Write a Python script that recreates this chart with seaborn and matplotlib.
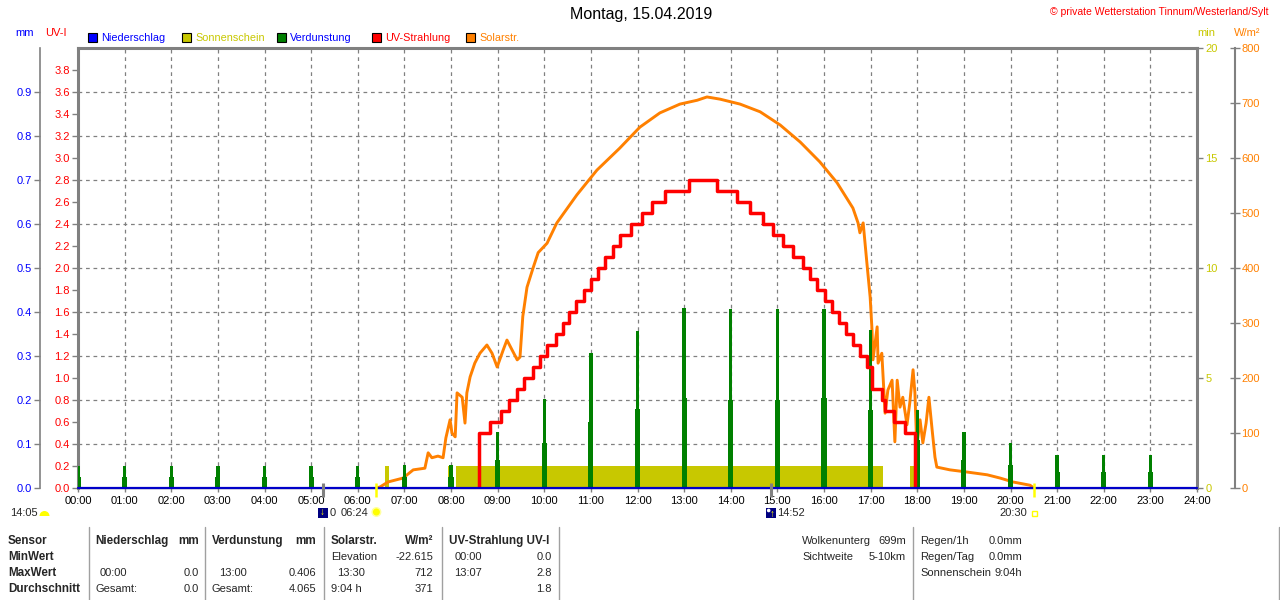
import matplotlib
matplotlib.use('Agg')
import matplotlib.pyplot as plt
import seaborn as sns
import numpy as np
from matplotlib.patches import Rectangle, Wedge, Circle
from matplotlib.ticker import FixedLocator, FormatStrFormatter

# ---------------- data ----------------
hours = list(range(25))
hour_labels = [f"{h:02d}:00" for h in hours]

# Verdunstung (mm per hour) - two-level hourly bars
evap_h = list(range(24))
evap_top = [0.050, 0.050, 0.050, 0.050, 0.050, 0.050, 0.050, 0.052, 0.052,
            0.127, 0.202, 0.307, 0.357, 0.409, 0.406, 0.406, 0.406, 0.360,
            0.177, 0.127, 0.102, 0.075, 0.075, 0.075]
evap_low = [0.025, 0.025, 0.025, 0.025, 0.025, 0.025, 0.025, 0.025, 0.025,
            0.064, 0.102, 0.150, 0.180, 0.204, 0.200, 0.200, 0.205, 0.177,
            0.109, 0.064, 0.052, 0.037, 0.037, 0.037]

# Sonnenschein (min per min) periods
sun_start = [6.58, 7.94, 8.11, 17.84]
sun_end = [6.67, 7.98, 17.27, 17.95]
sun_min = [1, 1, 1, 1]

# Niederschlag (mm)
rain_h = [0, 6, 12, 18, 24]
rain_mm = [0.0, 0.0, 0.0, 0.0, 0.0]

# UV-Strahlung (UV-I), step series
uv_t = [8.60, 8.60, 8.84, 9.07, 9.24, 9.42, 9.57, 9.76, 9.91, 10.06,
        10.25, 10.40, 10.53, 10.68, 10.85, 11.00, 11.15, 11.30, 11.47, 11.62,
        11.86, 12.10, 12.31, 12.59, 13.10, 13.70, 14.13, 14.41, 14.69, 14.91,
        15.12, 15.34, 15.55, 15.70, 15.85, 16.02, 16.17, 16.32, 16.47, 16.62,
        16.77, 16.92, 17.03, 17.24, 17.31, 17.50, 17.74, 17.95]
uv_v = [0.0, 0.5, 0.6, 0.7, 0.8, 0.9, 1.0, 1.1, 1.2, 1.3,
        1.4, 1.5, 1.6, 1.7, 1.8, 1.9, 2.0, 2.1, 2.2, 2.3,
        2.4, 2.5, 2.6, 2.7, 2.8, 2.7, 2.6, 2.5, 2.4, 2.3,
        2.2, 2.1, 2.0, 1.9, 1.8, 1.7, 1.6, 1.5, 1.4, 1.3,
        1.2, 1.1, 0.9, 0.8, 0.7, 0.6, 0.5, 0.0]

# Solarstrahlung (W/m2)
sol_t = [6.40, 6.48, 6.65, 6.97, 7.19, 7.44, 7.51, 7.59, 7.72, 7.83,
         7.89, 7.98, 8.02, 8.09, 8.13, 8.24, 8.30, 8.34, 8.41, 8.51,
         8.62, 8.77, 8.88, 8.99, 9.12, 9.20, 9.31, 9.42, 9.48, 9.54,
         9.63, 9.76, 9.87, 10.06, 10.27, 10.70, 11.13, 11.62, 12.05, 12.48,
         12.91, 13.28, 13.49, 13.77, 14.20, 14.63, 15.06, 15.49, 15.91, 16.28,
         16.62, 16.73, 16.77, 16.84, 16.92, 16.99, 17.03, 17.05, 17.14, 17.16,
         17.24, 17.31, 17.37, 17.46, 17.52, 17.57, 17.63, 17.69, 17.78, 17.84,
         17.91, 17.95, 17.99, 18.06, 18.12, 18.19, 18.25, 18.32, 18.38, 18.42,
         18.70, 19.07, 19.50, 19.78, 20.05, 20.42, 20.50]
sol_v = [0, 2, 11, 18, 33, 36, 64, 55, 58, 55,
         91, 124, 100, 93, 173, 165, 118, 173, 202, 227,
         245, 260, 245, 220, 251, 269, 251, 233, 238, 312,
         365, 400, 428, 445, 482, 533, 578, 618, 656, 682,
         698, 705, 711, 707, 698, 684, 660, 629, 593, 555,
         509, 482, 464, 482, 409, 347, 287, 233, 293, 227,
         245, 136, 178, 196, 84, 196, 147, 165, 115, 155,
         215, 173, 75, 124, 82, 118, 165, 105, 56, 38,
         33, 29, 24, 18, 11, 5, 0]

# axis ticks
uv_major = [0.0, 0.4, 0.8, 1.2, 1.6, 2.0, 2.4, 2.8, 3.2, 3.6]
uv_minor = [0.2, 0.6, 1.0, 1.4, 1.8, 2.2, 2.6, 3.0, 3.4, 3.8]
mm_ticks = [0.0, 0.1, 0.2, 0.3, 0.4, 0.5, 0.6, 0.7, 0.8, 0.9]
min_ticks = [0, 5, 10, 15, 20]
w_ticks = [0, 100, 200, 300, 400, 500, 600, 700, 800]

# astronomical events (hours)
moon_down_t = 5.25
sunrise_t = 6.40
moon_up_t = 14.867
sunset_t = 20.50

title = "Montag, 15.04.2019"
copyright_txt = "\u00a9 private Wetterstation Tinnum/Westerland/Sylt"
legend_items = [("Niederschlag", '#0000ff', '#0000ff'),
                ("Sonnenschein", '#c8c800', '#c8c800'),
                ("Verdunstung", '#008000', '#0000ff'),
                ("UV-Strahlung", '#ff0000', '#ff0000'),
                ("Solarstr.", '#ff8000', '#ff8000')]

# ---------------- style ----------------
sns.set_theme(style='white')
plt.rcParams['font.family'] = ['Liberation Sans', 'DejaVu Sans']
plt.rcParams['font.size'] = 8

GRAY = '#808080'
BLUE = '#0000ff'
RED = '#ff0000'
OLIVE = '#c8c800'
ORANGE = '#ff8000'
GREEN = '#008000'
RAINLINE = '#0000c8'

W, H = 1280, 600
fig = plt.figure(figsize=(12.8, 6.0), dpi=100)
fig.patch.set_facecolor('white')

L, R, T, B = 78, 1197, 48, 488
ax = fig.add_axes([L / W, 1 - B / H, (R - L) / W, (B - T) / H])
ax.set_facecolor('white')

ax_min = ax.twinx()
ax_w = ax.twinx()
ax_mm = ax.twinx()
ax_uv = ax.twinx()
ax_rain = ax.twinx()

ax.set_zorder(0)
for i, a in enumerate([ax_min, ax_w, ax_mm, ax_uv, ax_rain]):
    a.set_zorder(i + 1)
    a.patch.set_visible(False)
    for s in a.spines.values():
        s.set_visible(False)
    a.grid(False)

# ---- data drawing ----
ax_min.bar(sun_start, sun_min, width=np.subtract(sun_end, sun_start),
           align='edge', color=OLIVE, linewidth=0)
sns.lineplot(x=sol_t, y=sol_v, ax=ax_w, color=ORANGE, linewidth=2.1,
             estimator=None, sort=False)
ax_mm.bar(evap_h, evap_low, width=0.11, color=GREEN, linewidth=0)
ax_mm.bar(evap_h, evap_top, width=0.07, color=GREEN, linewidth=0)
sns.lineplot(x=uv_t, y=uv_v, ax=ax_uv, color=RED, linewidth=2.5,
             drawstyle='steps-post', estimator=None, sort=False)
sns.lineplot(x=rain_h, y=rain_mm, ax=ax_rain, color=RAINLINE, linewidth=1.6,
             estimator=None, sort=False, clip_on=False)

# ---- limits ----
ax.set_xlim(0, 24)
ax.set_ylim(0, 4)
ax_uv.set_ylim(0, 4)
ax_mm.set_ylim(0, 1)
ax_rain.set_ylim(0, 1)
ax_min.set_ylim(0, 20)
ax_w.set_ylim(0, 800)
for a in [ax_min, ax_w, ax_mm, ax_uv, ax_rain]:
    a.set_xlabel('')
    a.set_ylabel('')

# ---- base axis (UV-I) ----
for s in ['top', 'left', 'right']:
    ax.spines[s].set_visible(True)
    ax.spines[s].set_color(GRAY)
    ax.spines[s].set_linewidth(2.2)
ax.spines['bottom'].set_visible(True)
ax.spines['bottom'].set_color(GRAY)
ax.spines['bottom'].set_linewidth(1.0)
ax.set_xticks(hours)
ax.set_xticklabels(hour_labels)
ax.tick_params(axis='x', bottom=True, top=False, length=3, width=1, color=GRAY,
               pad=3, labelsize=8, labelcolor='black')
ax.yaxis.set_major_locator(FixedLocator(uv_major))
ax.yaxis.set_minor_locator(FixedLocator(uv_minor))
ax.yaxis.set_major_formatter(FormatStrFormatter('%.1f'))
ax.yaxis.set_minor_formatter(FormatStrFormatter('%.1f'))
ax.yaxis.tick_left()
ax.tick_params(axis='y', which='both', left=True, right=False, labelleft=True,
               labelright=False, length=4, width=1, color=GRAY, pad=2,
               labelsize=8, labelcolor=RED)
ax.grid(True, which='major', color=GRAY, linestyle=(0, (3, 3)), linewidth=0.9)
ax.grid(False, which='minor')
ax.set_xlabel('')
ax.set_ylabel('')

# ---- mm axis (left, outer) ----
ax_mm.yaxis.tick_left()
ax_mm.spines['left'].set_visible(True)
ax_mm.spines['left'].set_position(('axes', (40 - L) / (R - L)))
ax_mm.spines['left'].set_color(GRAY)
ax_mm.spines['left'].set_linewidth(1.2)
ax_mm.set_yticks(mm_ticks)
ax_mm.yaxis.set_major_formatter(FormatStrFormatter('%.1f'))
ax_mm.tick_params(axis='y', left=True, right=False, labelleft=True,
                  labelright=False, length=4, width=1, color=GRAY, pad=2,
                  labelsize=8, labelcolor=BLUE)

# ---- min axis (right, inner) ----
ax_min.yaxis.tick_right()
ax_min.set_yticks(min_ticks)
ax_min.tick_params(axis='y', right=True, left=False, labelright=True,
                   labelleft=False, length=4, width=1, color=GRAY, pad=2,
                   labelsize=8, labelcolor=OLIVE)

# ---- W/m2 axis (right, outer) ----
ax_w.yaxis.tick_right()
ax_w.spines['right'].set_visible(True)
ax_w.spines['right'].set_position(('axes', (1235 - L) / (R - L)))
ax_w.spines['right'].set_color(GRAY)
ax_w.spines['right'].set_linewidth(1.5)
ax_w.set_yticks(w_ticks)
ax_w.tick_params(axis='y', right=True, left=False, labelright=True,
                 labelleft=False, direction='inout', length=7, width=1,
                 color=GRAY, pad=1, labelsize=8, labelcolor=ORANGE)

for a in [ax_uv, ax_rain]:
    a.tick_params(axis='y', left=False, right=False, labelleft=False,
                  labelright=False)

# ---- event ticks under the x axis ----
xt = ax_rain.get_xaxis_transform()
ax_rain.vlines([moon_down_t, moon_up_t], -0.02, 0.011, transform=xt,
               colors=GRAY, linewidth=2.2, clip_on=False)
ax_rain.vlines([sunrise_t, sunset_t], -0.02, 0.011, transform=xt,
               colors='#ffff00', linewidth=1.8, clip_on=False)

# ---------------- overlay (pixel coordinates) ----------------
ov = fig.add_axes([0, 0, 1, 1], zorder=10)
ov.set_xlim(0, W)
ov.set_ylim(H, 0)
ov.axis('off')
ov.patch.set_visible(False)


def tx(t):
    return ax.transData.transform((t, 0))[0]


ov.text(641, 15, title, ha='center', va='center', fontsize=11.5, color='black')
ov.text(1268, 12, copyright_txt, ha='right', va='center', fontsize=7.5, color=RED)

# legend
leg_x = [88, 182, 277, 372, 466]
for (lab, fc, tc), x0 in zip(legend_items, leg_x):
    ov.add_patch(Rectangle((x0, 33), 9, 9, facecolor=fc, edgecolor='black', linewidth=0.8))
    ov.text(x0 + 13, 38, lab, color=tc, ha='left', va='center', fontsize=7.8)

# axis unit labels
ov.text(15, 33, "mm", color=BLUE, ha='left', va='center', fontsize=8)
ov.text(45, 33, "UV-I", color=RED, ha='left', va='center', fontsize=8)
ov.text(1197, 33, "min", color=OLIVE, ha='left', va='center', fontsize=8)
ov.text(1234, 33, "W/m\u00b2", color=ORANGE, ha='left', va='center', fontsize=8)

# astronomical annotations
ov.text(10, 513, "14:05", ha='left', va='center', fontsize=8)
ov.add_patch(Wedge((44.5, 516), 5, 180, 360, facecolor='#ffff00', edgecolor='none'))

pm = tx(moon_down_t)
ov.add_patch(Rectangle((pm - 5, 508), 10, 10, facecolor='#000080', edgecolor='none'))
ov.text(pm - 1, 512, "\u2193", color='#ffff00', ha='center', va='center', fontsize=7,
        fontweight='bold')
ov.text(pm + 7, 513, "0", ha='left', va='center', fontsize=8)
ps = tx(sunrise_t)
ov.text(ps - 8, 513, "06:24", ha='right', va='center', fontsize=8)
ov.add_patch(Circle((ps, 512), 5, facecolor='#ffffa0', edgecolor='none'))
ov.add_patch(Circle((ps, 512), 3.5, facecolor='#ffff00', edgecolor='none'))

pu = tx(moon_up_t)
ov.add_patch(Rectangle((pu - 5, 508), 10, 10, facecolor='#000080', edgecolor='none'))
ov.add_patch(Circle((pu - 2.5, 510.5), 1.8, facecolor='white', edgecolor='none'))
ov.text(pu + 1, 514, "\u2191", color='#ffff00', ha='center', va='center', fontsize=7,
        fontweight='bold')
ov.text(pu + 6, 513, "14:52", ha='left', va='center', fontsize=8)

pd_ = tx(sunset_t)
ov.text(pd_ - 7, 513, "20:30", ha='right', va='center', fontsize=8)
ov.add_patch(Rectangle((pd_ - 2, 511), 5, 5, facecolor='none', edgecolor='#ffff00', linewidth=1))

# ---------------- bottom table ----------------
row_y = [541, 557, 573, 589]
row_heads = ["Sensor", "MinWert", "MaxWert", "Durchschnitt"]
for y, lab in zip(row_y, row_heads):
    ov.text(8, y, lab, ha='left', va='center', fontsize=8.4, fontweight='bold')

col_heads = [("Niederschlag", "mm", 95, 199),
             ("Verdunstung", "mm", 212, 316),
             ("Solarstr.", "W/m\u00b2", 331, 433),
             ("UV-Strahlung UV-I", "", 449, 552)]
for name, unit, xl, xr in col_heads:
    ov.text(xl, row_y[0], name, ha='left', va='center', fontsize=8.4, fontweight='bold')
    if unit:
        ov.text(xr, row_y[0], unit, ha='right', va='center', fontsize=8.4, fontweight='bold')

cells = [
    (1, 331, "Elevation", 'left'), (1, 433, "-22.615", 'right'),
    (1, 455, "00:00", 'left'), (1, 552, "0.0", 'right'),
    (2, 100, "00:00", 'left'), (2, 199, "0.0", 'right'),
    (2, 219, "13:00", 'left'), (2, 316, "0.406", 'right'),
    (2, 337, "13:30", 'left'), (2, 433, "712", 'right'),
    (2, 454, "13:07", 'left'), (2, 552, "2.8", 'right'),
    (3, 95, "Gesamt:", 'left'), (3, 199, "0.0", 'right'),
    (3, 212, "Gesamt:", 'left'), (3, 316, "4.065", 'right'),
    (3, 331, "9:04 h", 'left'), (3, 433, "371", 'right'),
    (3, 552, "1.8", 'right'),
    (0, 802, "Wolkenunterg", 'left'), (0, 906, "699m", 'right'),
    (1, 802, "Sichtweite", 'left'), (1, 906, "5-10km", 'right'),
    (0, 920, "Regen/1h", 'left'), (0, 1022, "0.0mm", 'right'),
    (1, 920, "Regen/Tag", 'left'), (1, 1022, "0.0mm", 'right'),
    (2, 920, "Sonnenschein", 'left'), (2, 1022, "9:04h", 'right'),
]
for r, x, txt, ha in cells:
    ov.text(x, row_y[r], txt, ha=ha, va='center', fontsize=8)

sep_x = [89, 205, 324, 442, 559, 913, 1279]
for x in sep_x:
    ov.plot([x, x], [527, 600], color='#a0a0a0', linewidth=1)

fig.savefig('out.png', dpi=100, facecolor='white')
